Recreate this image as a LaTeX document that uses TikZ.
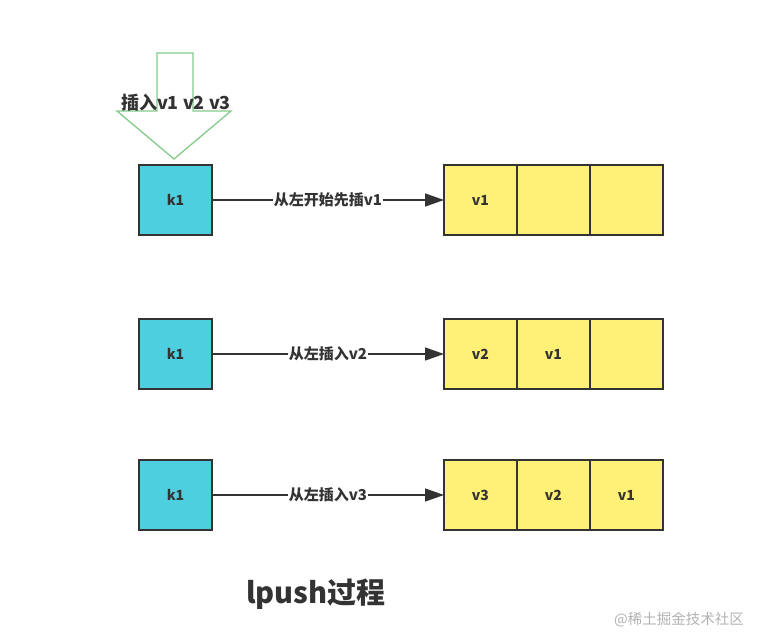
\documentclass[tikz,border=0pt]{standalone}
\usepackage{fontspec}
\setmainfont{Noto Sans CJK SC}
\usetikzlibrary{arrows.meta,positioning}
\definecolor{KeyClr}{HTML}{4DCFE0}
\definecolor{CellClr}{HTML}{FFF176}
\definecolor{LineClr}{HTML}{333333}
\definecolor{ArrowClr}{HTML}{82C98A}

\begin{document}
\begin{tikzpicture}[x=1pt,y=-1pt]
\tikzset{
  box/.style={draw=LineClr,line width=1.6pt,minimum width=73pt,minimum height=70pt,
    inner sep=0pt,outer sep=0pt,text=LineClr,font=\bfseries\fontsize{14}{14}\selectfont},
  keybox/.style={box,fill=KeyClr},
  cellbox/.style={box,fill=CellClr},
  pushline/.style={draw=LineClr,line width=1.3pt,-{Triangle[length=19pt,width=13pt]}},
  pushlabel/.style={fill=white,inner sep=0.5pt,text=LineClr,font=\bfseries\fontsize{15}{15}\selectfont}
}
\useasboundingbox (0,0) rectangle (760,636);

% insert arrow
\draw[ArrowClr,line width=1.3pt] (157,53) -- (193,53) -- (193,111) -- (231,111)
  -- (174,159) -- (117,111) -- (157,111) -- cycle;
\node[text=LineClr,font=\bfseries\fontsize{18}{18}\selectfont] (ins) at (176,103) {插入v1 v2 v3};

% rows
\foreach \r/\y/\a/\b/\c/\lbl in {1/200/v1/{}/{}/从左开始先插v1,
                                  2/354/v2/v1/{}/从左插入v2,
                                  3/495/v3/v2/v1/从左插入v3}{
  \node[keybox] (k\r) at (175.5,\y) {k1};
  \node[cellbox] (c\r1) at (480.5,\y) {\a};
  \node[cellbox,right=0pt of c\r1] (c\r2) {\b};
  \node[cellbox,right=0pt of c\r2] (c\r3) {\c};
  \draw[pushline] (k\r) -- (c\r1) node[midway,pushlabel] {\lbl};
}

\node[text=LineClr,font=\bfseries\fontsize{29}{29}\selectfont] (title) at (316,594) {lpush过程};
\node[text=black!30,font=\fontsize{14.5}{14.5}\selectfont] (mark) at (679,620) {@稀土掘金技术社区};
\end{tikzpicture}
\end{document}
